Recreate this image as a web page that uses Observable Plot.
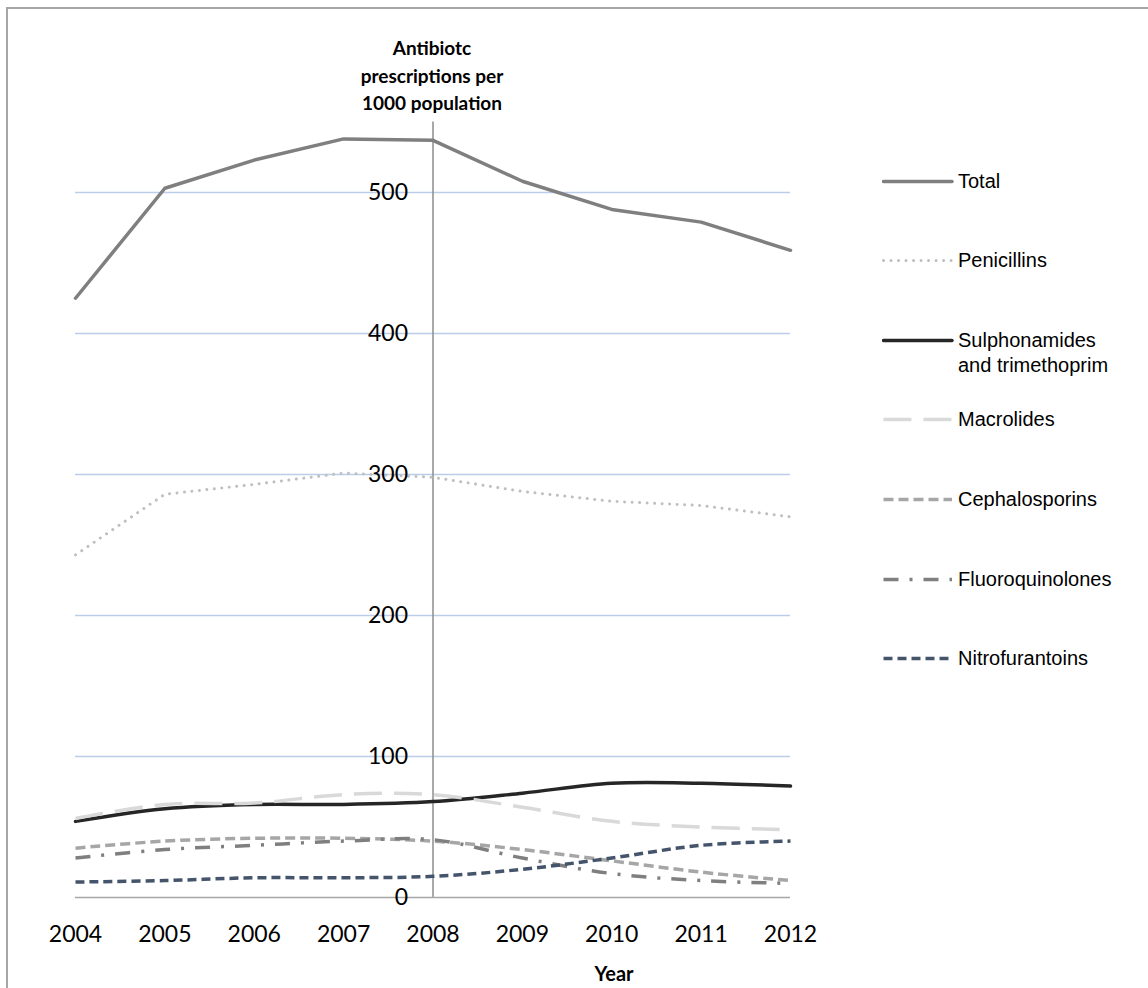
<!DOCTYPE html>
<html>
<head>
<meta charset="utf-8">
<script src="https://cdn.jsdelivr.net/npm/d3@7"></script>
<script src="https://cdn.jsdelivr.net/npm/@observablehq/plot@0.6"></script>
<style>
  html, body { margin: 0; padding: 0; background: #fff; width: 1148px; height: 988px; overflow: hidden; }
  #frame { position: absolute; left: 6px; top: 7px; width: 1300px; height: 1200px; border-left: 2px solid #a6a6a6; border-top: 2px solid #a6a6a6; }
  #chart { position: absolute; left: 0; top: 0; }
  #title { position: absolute; left: 302px; top: 34px; width: 260px; text-align: center; font-family: Lato, "Open Sans", sans-serif; font-weight: bold; font-size: 19px; line-height: 27.5px; color: #000; }
  #xlabel { position: absolute; left: 554px; top: 959px; width: 120px; text-align: center; font-family: Lato, "Open Sans", sans-serif; font-weight: bold; font-size: 20px; line-height: 28px; color: #000; }
  #legend { position: absolute; left: 0; top: 0; }
  .entry { position: absolute; left: 882px; font-family: "Liberation Sans", Arial, sans-serif; font-size: 20px; line-height: 25px; color: #000; }
  .entry svg { position: absolute; left: 0; top: 0; }
  .entry span { position: absolute; left: 76px; top: 0; white-space: nowrap; }
</style>
</head>
<body>
<div id="frame"></div>
<div id="chart"></div>
<div id="title">Antibiotc<br>prescriptions per<br>1000 population</div>
<div id="xlabel">Year</div>
<div id="legend"></div>
<script>
// ---- data ----
const years = [2004, 2005, 2006, 2007, 2008, 2009, 2010, 2011, 2012];
const total         = [425, 503, 523, 538, 537, 508, 488, 479, 459];
const penicillins   = [243, 286, 293, 301, 298, 288, 281, 278, 270];
const sulphonamides = [54, 63, 66, 66, 68, 74, 81, 81, 79];
const macrolides    = [56, 66, 67, 73, 73, 64, 54, 50, 48];
const cephalosporins   = [35, 40, 42, 42, 40, 34, 26, 18, 12];
const fluoroquinolones = [28, 34, 37, 40, 41, 28, 17, 12, 10];
const nitrofurantoins  = [11, 12, 14, 14, 15, 20, 28, 37, 40];
const seriesNames = ["Total", "Penicillins", "Sulphonamides\nand trimethoprim", "Macrolides", "Cephalosporins", "Fluoroquinolones", "Nitrofurantoins"];
const yTicks = [0, 100, 200, 300, 400, 500];
const gridTicks = [100, 200, 300, 400, 500];

// ---- styles ----
const styles = [
  {stroke: "#7f7f7f", width: 3.5, dash: null, cap: "round", curve: "linear"},
  {stroke: "#bfbfbf", width: 3, dash: "0.01 7.5", cap: "round", curve: "linear"},
  {stroke: "#262626", width: 3.5, dash: null, cap: "round", curve: "catmull-rom"},
  {stroke: "#d9d9d9", width: 3.5, dash: "28 12", cap: "butt", curve: "catmull-rom"},
  {stroke: "#a6a6a6", width: 3.5, dash: "10 5", cap: "butt", curve: "catmull-rom"},
  {stroke: "#7f7f7f", width: 3.5, dash: "15 11 3 11", cap: "butt", curve: "catmull-rom"},
  {stroke: "#44546a", width: 3.5, dash: "9 5", cap: "butt", curve: "catmull-rom"}
];
const values = [total, penicillins, sulphonamides, macrolides, cephalosporins, fluoroquinolones, nitrofurantoins];

const lineMarks = values.map((vals, i) => {
  const data = years.map((y, j) => ({year: y, value: vals[j]}));
  const s = styles[i];
  const opts = {x: "year", y: "value", stroke: s.stroke, strokeWidth: s.width, strokeLinecap: s.cap, strokeLinejoin: "round", curve: s.curve};
  if (s.dash) opts.strokeDasharray = s.dash;
  return Plot.line(data, opts);
});

const chart = Plot.plot({
  width: 820,
  height: 988,
  marginLeft: 75,
  marginRight: 30,
  marginTop: 121.5,
  marginBottom: 91,
  style: {fontFamily: "Lato, 'Open Sans', sans-serif", fontSize: "23px", background: "transparent", color: "#000"},
  x: {domain: [2004, 2012], axis: null},
  y: {domain: [0, 550], axis: null},
  marks: [
    Plot.ruleY(gridTicks, {stroke: "#bccdec", strokeWidth: 1.5}),
    Plot.ruleX([2008], {y1: 0, y2: 550, stroke: "#8c8c8c", strokeWidth: 1.5}),
    Plot.ruleY([0], {stroke: "#a6a6a6", strokeWidth: 1.5}),
    ...lineMarks,
    Plot.axisX(years, {tickSize: 0, tickPadding: 28, tickFormat: d => String(d), fontSize: 23, label: null}),
    Plot.text(yTicks, {x: () => 2008, y: d => d, text: d => String(d), textAnchor: "end", dx: -25, fontSize: 23, fill: "#000"})
  ]
});
document.getElementById("chart").appendChild(chart);

// ---- legend ----
const legendY = [181, 260, 340, 419, 499, 579, 658];
const legend = document.getElementById("legend");
seriesNames.forEach((name, i) => {
  const s = styles[i];
  const div = document.createElement("div");
  div.className = "entry";
  div.style.top = (legendY[i] - 12.5) + "px";
  const svg = d3.create("svg").attr("width", 72).attr("height", 25);
  const ln = svg.append("line").attr("x1", 1.5).attr("x2", 70).attr("y1", 12.5).attr("y2", 12.5)
    .attr("stroke", s.stroke).attr("stroke-width", s.width).attr("stroke-linecap", s.cap);
  if (s.dash) ln.attr("stroke-dasharray", s.dash);
  div.appendChild(svg.node());
  const span = document.createElement("span");
  span.innerHTML = name.replace("\n", "<br>");
  div.appendChild(span);
  legend.appendChild(div);
});
</script>
</body>
</html>
